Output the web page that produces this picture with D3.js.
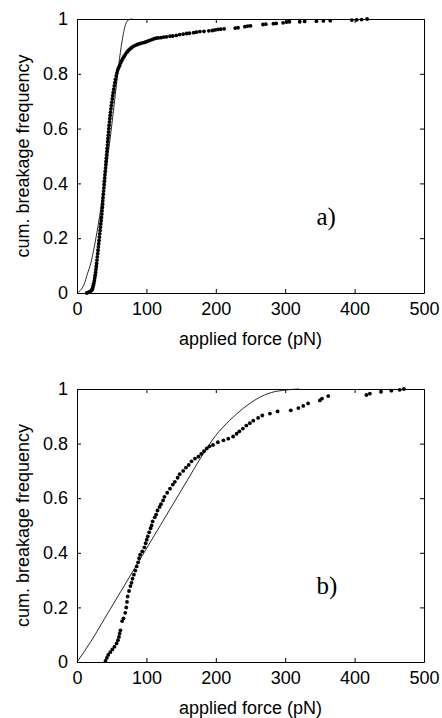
<!DOCTYPE html>
<html>
<head>
<meta charset="utf-8">
<script src="https://cdn.jsdelivr.net/npm/d3@7"></script>
<style>
  body { margin: 0; background: #fff; }
  text { font-family: "Liberation Sans", Arial, Helvetica, sans-serif; }
</style>
</head>
<body>
<div id="chart-area"></div>
<script>
// Tick values
var xTicks = [0, 100, 200, 300, 400, 500];
var yTicks = [0, 0.2, 0.4, 0.6, 0.8, 1];

// Panel a) measured points: applied force (pN) and cum. frequency
var forceA = [14, 16, 18, 19.5, 21, 22, 22.8, 23.5, 24.2, 25, 25.6, 26.2, 26.8, 27.3, 27.8, 28.3, 28.8, 29.3, 29.8, 30.3,
  30.8, 31.3, 31.8, 32.3, 32.8, 33.3, 33.8, 34.3, 34.8, 35.3, 35.8, 36.1, 36.5, 36.8, 37.1, 37.5, 37.9, 38.3, 38.7, 39.1,
  39.5, 39.9, 40.3, 40.7, 41.1, 41.5, 41.9, 42.3, 42.7, 43.1, 43.5, 43.9, 44.3, 44.7, 45.1, 45.5, 45.9, 46.3, 46.8, 47.3,
  47.8, 48.3, 48.9, 49.5, 50.1, 50.8, 51.5, 52.2, 53, 53.8, 54.6, 55.5, 56.5, 57.5, 58.7, 60, 61.5, 63, 64.5, 66,
  68, 70, 72, 74, 76, 78.5, 81, 84, 87, 90, 93, 96, 99, 102, 105, 108, 111, 114, 117, 121,
  125, 129, 134, 138, 143, 148, 153, 158, 162, 168, 172, 177, 183, 190, 195, 199, 203, 207, 212, 228,
  232, 242, 246, 250, 268, 272, 283, 287, 297, 302, 306, 321, 328, 345, 355, 365, 396, 403, 410, 418];
var freqA = [0, 0.002, 0.004, 0.006, 0.01, 0.014, 0.02, 0.028, 0.036, 0.045, 0.055, 0.065, 0.075, 0.086, 0.097, 0.108, 0.12, 0.132, 0.144, 0.156,
  0.168, 0.18, 0.192, 0.204, 0.216, 0.228, 0.24, 0.252, 0.264, 0.276, 0.288, 0.3, 0.312, 0.324, 0.336, 0.348, 0.36, 0.372, 0.384, 0.396,
  0.408, 0.42, 0.432, 0.444, 0.456, 0.468, 0.48, 0.492, 0.504, 0.516, 0.528, 0.54, 0.552, 0.564, 0.576, 0.588, 0.6, 0.612, 0.624, 0.636,
  0.648, 0.66, 0.672, 0.684, 0.696, 0.708, 0.72, 0.732, 0.744, 0.756, 0.768, 0.78, 0.792, 0.803, 0.814, 0.822, 0.83, 0.84, 0.848, 0.856,
  0.864, 0.872, 0.879, 0.885, 0.89, 0.895, 0.9, 0.904, 0.907, 0.91, 0.912, 0.914, 0.916, 0.919, 0.922, 0.925, 0.928, 0.93, 0.931, 0.932,
  0.934, 0.935, 0.937, 0.938, 0.94, 0.943, 0.945, 0.947, 0.948, 0.95, 0.952, 0.954, 0.955, 0.957, 0.958, 0.96, 0.962, 0.963, 0.964, 0.967,
  0.968, 0.972, 0.974, 0.975, 0.98, 0.981, 0.983, 0.984, 0.986, 0.989, 0.99, 0.99, 0.991, 0.992, 0.993, 0.994, 0.996, 0.997, 0.998, 1];

// Panel a) fitted curve
var fitForceA = [0, 5, 10, 15, 20, 25, 30, 35, 40, 45, 50, 55, 60, 65, 70, 75, 80];
var fitFreqA = [0, 0.01, 0.03, 0.07, 0.11, 0.17, 0.24, 0.32, 0.41, 0.51, 0.61, 0.72, 0.83, 0.92, 0.98, 0.998, 1];

// Panel b) measured points
var forceB = [41, 43, 45, 48, 51, 54, 57, 59, 60.5, 61.5, 62.5, 65, 67, 69.5, 71, 72, 73, 75, 77, 78.5,
  80, 82, 84, 86, 88, 89.5, 91, 94, 97, 99, 100.5, 102, 104, 106, 107.5, 109, 112, 114, 116, 119,
  121, 124, 126, 130, 134, 138, 141, 145, 148, 153, 157, 161, 165, 170, 175, 179, 183, 187, 191, 196,
  203, 211, 218, 225, 230, 234, 239, 244, 249, 254, 261, 267, 278, 289, 308, 319, 326, 333, 350, 353,
  362, 417, 422, 438, 453, 465, 471];
var freqB = [0.004, 0.015, 0.026, 0.036, 0.046, 0.056, 0.068, 0.08, 0.092, 0.104, 0.116, 0.15, 0.16, 0.18, 0.2, 0.22, 0.24, 0.26, 0.278, 0.29,
  0.305, 0.32, 0.335, 0.35, 0.365, 0.38, 0.393, 0.405, 0.42, 0.435, 0.448, 0.46, 0.475, 0.49, 0.5, 0.515, 0.53, 0.54, 0.555, 0.568,
  0.578, 0.592, 0.605, 0.62, 0.635, 0.65, 0.66, 0.675, 0.688, 0.7, 0.712, 0.722, 0.735, 0.745, 0.752, 0.762, 0.772, 0.782, 0.79, 0.795,
  0.805, 0.812, 0.818, 0.826, 0.836, 0.845, 0.855, 0.866, 0.875, 0.884, 0.894, 0.903, 0.91, 0.918, 0.922, 0.93, 0.938, 0.947, 0.958, 0.965,
  0.974, 0.978, 0.983, 0.99, 0.994, 0.997, 1];

// Panel b) fitted curve
var fitForceB = [0, 20, 40, 60, 80, 100, 120, 140, 160, 180, 200, 220, 240, 260, 280, 300, 320];
var fitFreqB = [0, 0.075, 0.16, 0.245, 0.33, 0.415, 0.5, 0.585, 0.67, 0.755, 0.83, 0.885, 0.93, 0.965, 0.987, 0.996, 1];

var width = 442;
var height = 718;

var svg = d3.select("#chart-area")
  .append("svg")
  .attr("width", width)
  .attr("height", height);

var plotLeft = 77;
var plotRight = 424;

function drawPanel(top, bottom, forces, freqs, fitForces, fitFreqs, tag) {
  var x = d3.scaleLinear().domain([0, 500]).range([plotLeft, plotRight]);
  var y = d3.scaleLinear().domain([0, 1]).range([bottom, top]);

  var g = svg.append("g");

  // Bottom axis with labels, ticks pointing in
  g.append("g")
    .attr("transform", "translate(0," + bottom + ")")
    .call(d3.axisBottom(x).tickValues(xTicks).tickSizeInner(-4).tickSizeOuter(0).tickPadding(9))
    .call(styleAxis);

  // Left axis
  g.append("g")
    .attr("transform", "translate(" + plotLeft + ",0)")
    .call(d3.axisLeft(y).tickValues(yTicks).tickSizeInner(-4).tickSizeOuter(0).tickPadding(9)
      .tickFormat(function(d) { return d === 0 || d === 1 ? String(d) : d3.format(".1f")(d); }))
    .call(styleAxis);

  // Top and right: ticks only
  g.append("g")
    .attr("transform", "translate(0," + top + ")")
    .call(d3.axisTop(x).tickValues(xTicks).tickSizeInner(-4).tickSizeOuter(0).tickFormat(""))
    .call(styleAxis);

  g.append("g")
    .attr("transform", "translate(" + plotRight + ",0)")
    .call(d3.axisRight(y).tickValues(yTicks).tickSizeInner(-4).tickSizeOuter(0).tickFormat(""))
    .call(styleAxis);

  // Fitted curve
  var line = d3.line()
    .x(function(d, i) { return x(fitForces[i]); })
    .y(function(d, i) { return y(fitFreqs[i]); })
    .curve(d3.curveMonotoneX);

  g.append("path")
    .datum(fitForces)
    .attr("d", line)
    .attr("fill", "none")
    .attr("stroke", "#111")
    .attr("stroke-width", 0.9);

  // Measured points
  g.selectAll("circle.pt")
    .data(forces)
    .enter()
    .append("circle")
    .attr("class", "pt")
    .attr("cx", function(d) { return x(d); })
    .attr("cy", function(d, i) { return y(freqs[i]); })
    .attr("r", 1.9)
    .attr("fill", "#000");

  // Panel tag
  g.append("text")
    .attr("x", x(345))
    .attr("y", y(0.248))
    .attr("font-family", "'Liberation Serif', 'Times New Roman', serif")
    .style("font-family", "'Liberation Serif', 'Times New Roman', serif")
    .attr("font-size", "25px")
    .text(tag);

  // X label
  g.append("text")
    .attr("x", (plotLeft + plotRight) / 2)
    .attr("y", bottom + 52)
    .attr("text-anchor", "middle")
    .attr("font-size", "18px")
    .text("applied force (pN)");

  // Y label
  g.append("text")
    .attr("transform", "translate(29," + ((top + bottom) / 2) + ") rotate(-90)")
    .attr("text-anchor", "middle")
    .attr("font-size", "18px")
    .text("cum. breakage frequency");
}

function styleAxis(sel) {
  sel.selectAll("path").attr("stroke", "#000").attr("stroke-width", 1);
  sel.selectAll("line").attr("stroke", "#000");
  sel.selectAll("text")
    .attr("fill", "#000")
    .attr("font-size", "18px")
    .style("font-family", "'Liberation Sans', Arial, Helvetica, sans-serif");
}

drawPanel(19, 293, forceA, freqA, fitForceA, fitFreqA, "a)");
drawPanel(389, 662, forceB, freqB, fitForceB, fitFreqB, "b)");
</script>
</body>
</html>
